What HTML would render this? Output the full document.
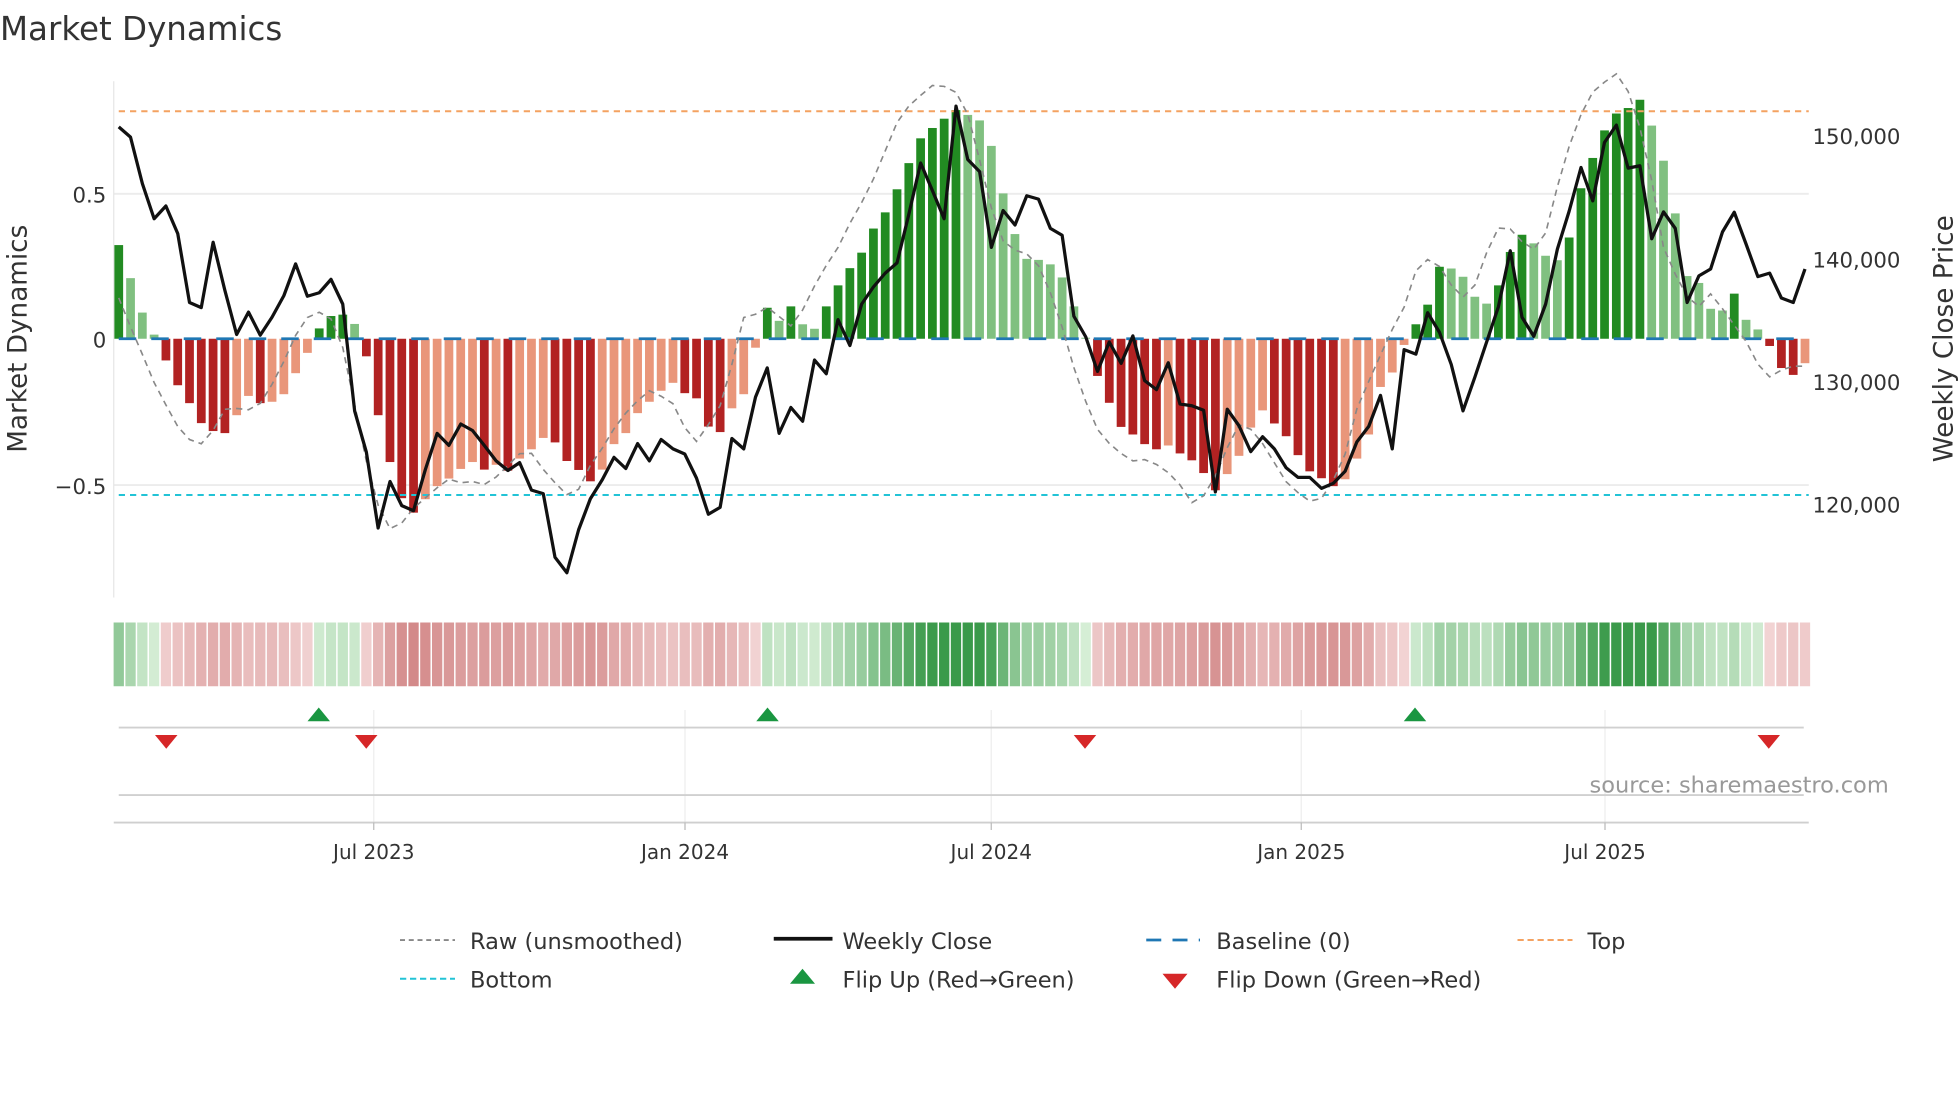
<!DOCTYPE html>
<html><head><meta charset="utf-8"><style>
html,body{margin:0;padding:0;background:#fff;}
svg{display:block;font-family:"DejaVu Sans","Liberation Sans",sans-serif;}
</style></head><body>
<svg id="c" width="1960" height="1102" viewBox="0 0 1568 881.6" xmlns="http://www.w3.org/2000/svg">
<rect width="1568" height="882" fill="#fff"/>
<text x="0" y="32" font-size="26" fill="#333">Market Dynamics</text>
<line x1="91" y1="155" x2="1447" y2="155" stroke="#ececec" stroke-width="1.5"/>
<line x1="91" y1="388" x2="1447" y2="388" stroke="#ececec" stroke-width="1.5"/>
<line x1="91" y1="65" x2="91" y2="478" stroke="#e6e6e6" stroke-width="1"/>
<g id="bars"></g>
<line x1="95" y1="271" x2="1447" y2="271" stroke="#1f77b4" stroke-width="2.2" stroke-dasharray="14,12"/>
<line x1="95" y1="89" x2="1447" y2="89" stroke="#f4a261" stroke-width="1.6" stroke-dasharray="5,4"/>
<line x1="95" y1="396" x2="1447" y2="396" stroke="#22c3d6" stroke-width="1.6" stroke-dasharray="5,4"/>
<polyline id="raw" fill="none" stroke="#888" stroke-width="1.3" stroke-dasharray="5,4"/>
<polyline id="close" fill="none" stroke="#111" stroke-width="2.6" stroke-linejoin="round"/>
<g font-size="17" fill="#333">
<text x="85" y="162" text-anchor="end">0.5</text>
<text x="85" y="278" text-anchor="end">0</text>
<text x="85" y="395" text-anchor="end">−0.5</text>
<text x="1450" y="115">150,000</text>
<text x="1450" y="214">140,000</text>
<text x="1450" y="312">130,000</text>
<text x="1450" y="410">120,000</text>
</g>
<text transform="translate(21,271) rotate(-90)" text-anchor="middle" font-size="21" fill="#333">Market Dynamics</text>
<text transform="translate(1562,271) rotate(-90)" text-anchor="middle" font-size="21" fill="#333">Weekly Close Price</text>
<g id="strip"></g>
<g stroke="#eeeeee" stroke-width="1">
<line x1="299" y1="568" x2="299" y2="658"/><line x1="548" y1="568" x2="548" y2="658"/><line x1="793" y1="568" x2="793" y2="658"/><line x1="1041" y1="568" x2="1041" y2="658"/><line x1="1284" y1="568" x2="1284" y2="658"/>
</g>
<line x1="95" y1="582" x2="1443" y2="582" stroke="#d0d0d0" stroke-width="1.5"/>
<line x1="95" y1="636" x2="1443" y2="636" stroke="#d0d0d0" stroke-width="1.5"/>
<line x1="91" y1="658" x2="1447" y2="658" stroke="#cfcfcf" stroke-width="1.5"/>
<g stroke="#bbb" stroke-width="1"><line x1="299" y1="658" x2="299" y2="664"/><line x1="548" y1="658" x2="548" y2="664"/><line x1="793" y1="658" x2="793" y2="664"/><line x1="1041" y1="658" x2="1041" y2="664"/><line x1="1284" y1="658" x2="1284" y2="664"/></g>
<g id="flips"></g>
<text x="1511" y="634" text-anchor="end" font-size="18" fill="#999">source: sharemaestro.com</text>
<g font-size="16" fill="#333" text-anchor="middle">
<text x="299" y="687">Jul 2023</text><text x="548" y="687">Jan 2024</text><text x="793" y="687">Jul 2024</text><text x="1041" y="687">Jan 2025</text><text x="1284" y="687">Jul 2025</text>
</g>
<g font-size="18" fill="#333">
<line x1="320" y1="752" x2="364" y2="752" stroke="#888" stroke-width="1.5" stroke-dasharray="4,3"/><text x="376" y="759">Raw (unsmoothed)</text>
<line x1="619" y1="751" x2="666" y2="751" stroke="#111" stroke-width="3"/><text x="674" y="759">Weekly Close</text>
<line x1="917" y1="752" x2="960" y2="752" stroke="#1f77b4" stroke-width="2.2" stroke-dasharray="12,9"/><text x="973" y="759">Baseline (0)</text>
<line x1="1214" y1="752" x2="1258" y2="752" stroke="#f4a261" stroke-width="1.6" stroke-dasharray="5,3"/><text x="1270" y="759">Top</text>
<line x1="320" y1="783" x2="364" y2="783" stroke="#22c3d6" stroke-width="1.6" stroke-dasharray="5,3"/><text x="376" y="790">Bottom</text>
<polygon points="642,775 652,787 632,787" fill="#1a9641"/><text x="674" y="790">Flip Up (Red→Green)</text>
<polygon points="930,779 950,779 940,791" fill="#d62728"/><text x="973" y="790">Flip Down (Green→Red)</text>
</g>
</svg>
<script>
var H=[272,176,76,12,-63,-135,-187,-245,-268,-274,-222,-166,-187,-183,-161,-100,-41,30,66,70,43,-51,-222,-358,-463,-505,-466,-428,-406,-378,-358,-380,-366,-383,-348,-321,-288,-301,-355,-381,-414,-380,-306,-274,-216,-183,-151,-128,-158,-173,-255,-271,-202,-161,-26,90,
52,94,42,29,94,155,205,250,320,367,434,510,582,612,639,664,650,634,560,422,304,232,229,216,178,94,3,-108,-186,-256,-278,-306,-321,-310,-333,-353,-390,-440,-393,-340,-258,-208,-246,-283,-338,-385,-405,-428,-408,-348,-278,-140,-98,-18,42,
99,209,204,180,122,102,155,252,302,277,241,228,294,437,525,605,654,670,694,619,517,364,182,162,87,82,131,55,27,-21,-85,-105,-71];
var C=[165,195,330,432,395,475,675,690,500,640,768,703,770,718,655,563,657,647,608,680,990,1110,1330,1195,1265,1280,1160,1055,1090,1028,1047,1090,1135,1163,1140,1220,1230,1415,1460,1335,1245,1190,1125,1157,1085,1135,1073,1100,1115,1185,1290,1270,1070,1100,950,865,
1055,980,1020,842,882,725,800,680,630,590,560,420,270,350,432,105,260,295,515,408,450,365,375,460,480,715,775,875,790,852,772,902,928,850,970,975,988,1225,985,1033,1108,1065,1100,1155,1183,1183,1215,1200,1165,1080,1035,945,1100,812,825,
705,762,855,990,892,790,688,525,718,773,680,520,410,283,380,210,160,285,278,490,412,460,675,598,578,470,413,505,600,590,662,675,578];
var N=H.length,s=(1444-95)/(N-1),k=0.2755,ns="http://www.w3.org/2000/svg";
function el(t,a,p){var e=document.createElementNS(ns,t);for(var q in a)e.setAttribute(q,a[q]);p.appendChild(e);return e;}
var bars=document.getElementById('bars'),strip=document.getElementById('strip');
function mix(a,b,t){return 'rgb('+[0,1,2].map(function(i){return Math.round(a[i]+(b[i]-a[i])*t)}).join(',')+')';}
var cp=[],rp=[];
for(var i=0;i<N;i++){
 var x=95+i*s,h=H[i]*k,prev=i?H[i-1]:0,col;
 if(H[i]>=0)col=(i==0||H[i]>=prev)?'#228b22':'#80c080';else col=(H[i]<=prev)?'#b22222':'#e9967a';
 if(h>=0)el('rect',{x:x-3.5,y:271-h,width:7,height:Math.max(h,0.5),fill:col},bars);
 else el('rect',{x:x-3.5,y:271,width:7,height:-h,fill:col},bars);
 var t=Math.min(1,Math.abs(H[i])/620);
 var c=H[i]>=0?mix([214,238,214],[58,154,74],t):mix([243,214,214],[204,120,120],t);
 el('rect',{x:x-s/2+0.6,y:498,width:s-1.2,height:51,fill:c},strip);
 cp.push(x.toFixed(1)+','+(56+C[i]*k).toFixed(1));
 var j=Math.min(i+2,N-1),j2=Math.min(i+1,N-1),r=(H[j]*0.7+H[j2]*0.3)*1.12;
 rp.push(x.toFixed(1)+','+(271-r*k).toFixed(1));
}
document.getElementById('close').setAttribute('points',cp.join(' '));
document.getElementById('raw').setAttribute('points',rp.join(' '));
var f=document.getElementById('flips');
[255,614,1132].forEach(function(x){el('polygon',{points:(x)+',566 '+(x+9)+',577 '+(x-9)+',577',fill:'#1a9641'},f);});
[133,293,868,1415].forEach(function(x){el('polygon',{points:(x-9)+',588 '+(x+9)+',588 '+x+',599',fill:'#d62728'},f);});
</script>
</body></html>
